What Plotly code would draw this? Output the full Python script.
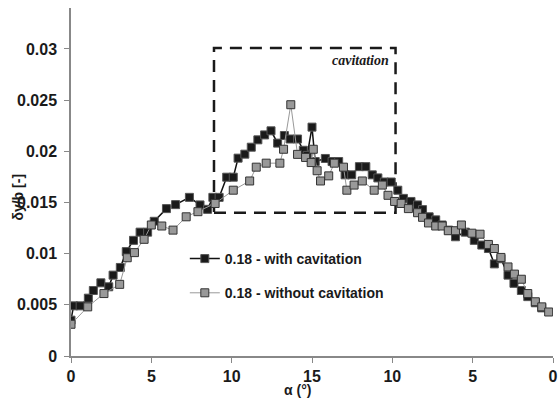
import plotly.graph_objects as go

# with cavitation (black)
x_cav = [0, 0.16, 0.57, 1.08, 1.39, 1.86, 2.35, 2.62, 3.07, 3.44, 3.89, 4.30, 4.77, 5.18,
         5.94, 6.51, 7.37, 8.03, 8.5, 8.83, 9.22, 9.69, 10.1, 10.4, 10.82, 11.22, 11.63,
         12.05, 12.45, 12.86, 13.28, 13.64, 14.1, 14.46, 14.7, 15.0, 15.2, 15.83, 16.25,
         16.66, 17.06, 17.47, 17.95, 18.35, 18.75, 19.1, 19.5, 19.93, 20.34, 20.69, 21.16,
         21.57, 21.88, 22.29, 22.7, 23.1, 23.5, 23.93, 24.54, 25.1, 25.57, 25.98, 26.35,
         26.76, 27.2, 27.57, 28.03, 28.43, 28.9, 29.3]
y_cav = [0.0035, 0.0049, 0.0049, 0.00565, 0.0064, 0.00715, 0.00676, 0.0079, 0.00865, 0.0102,
         0.0113, 0.0121, 0.0121, 0.01316, 0.0144, 0.01479, 0.0155, 0.01476, 0.01433, 0.0155,
         0.0155, 0.01747, 0.01747, 0.01933, 0.01972, 0.0204, 0.02112, 0.0216, 0.0220, 0.0208,
         0.02154, 0.0212, 0.0212, 0.0201, 0.0196, 0.02236, 0.0190, 0.0193, 0.0190, 0.0190,
         0.0177, 0.0177, 0.0185, 0.0185, 0.0177, 0.0174, 0.0170, 0.0170, 0.0162, 0.0154,
         0.0151, 0.01476, 0.0143, 0.0136, 0.0133, 0.0128, 0.0123, 0.01165, 0.0121, 0.0113,
         0.01084, 0.0105, 0.0090, 0.0095, 0.0079, 0.0071, 0.0064, 0.0058, 0.0052, 0.0047]

# without cavitation (gray)
x_nocav = [0, 1.04, 2.05, 3.03, 3.5, 3.95, 4.55, 5.0, 5.65, 6.35, 7.17, 7.9, 8.97, 10.1,
           11.12, 11.53, 12.15, 13.0, 13.23, 13.68, 14.1, 14.6, 14.95, 15.08, 15.32, 15.53,
           16.04, 16.39, 16.96, 17.17, 17.62, 18.13, 18.87, 19.38, 19.73, 20.14, 20.55, 21.0,
           21.57, 21.88, 22.25, 22.7, 23.1, 23.48, 23.93, 24.3, 24.95, 25.46, 25.98, 26.35,
           26.76, 27.2, 27.6, 28.03, 28.43, 28.9, 29.3, 29.73]
y_nocav = [0.0031, 0.0048, 0.0061, 0.0070, 0.0096, 0.0101, 0.0114, 0.0128, 0.0127, 0.0123,
           0.0136, 0.0141, 0.0149, 0.0162, 0.0171, 0.01845, 0.01884, 0.01884, 0.0202, 0.02455,
           0.0197, 0.0194, 0.0189, 0.0202, 0.0181, 0.0171, 0.0176, 0.01884, 0.01845, 0.0162,
           0.0167, 0.0171, 0.0162, 0.0167, 0.0157, 0.0151, 0.0149, 0.0144, 0.0140, 0.01355,
           0.0130, 0.0127, 0.0127, 0.01224, 0.01224, 0.0128, 0.0120, 0.0119, 0.0109, 0.0105,
           0.00963, 0.0087, 0.0080, 0.0075, 0.0061, 0.0053, 0.0048, 0.0043]

x_tickvals = [0, 5, 10, 15, 20, 25, 30]
x_ticktext = ["0", "5", "10", "15", "10", "5", "0"]
y_tickvals = [0, 0.005, 0.01, 0.015, 0.02, 0.025, 0.03]
y_ticktext = ["0", "0.005", "0.01", "0.015", "0.02", "0.025", "0.03"]

box_x = [8.9, 20.2]
box_y = [0.014, 0.0301]

font = "Liberation Sans, Arial, sans-serif"

fig = go.Figure()
fig.add_trace(go.Scatter(
    x=x_cav, y=y_cav, mode="lines+markers", name="<b>0.18 - with cavitation</b>",
    legendgroup="a",
    line=dict(color="#111111", width=1.5),
    marker=dict(symbol="square", size=8, color="#1a1a1a", line=dict(color="#555555", width=1)),
))
fig.add_trace(go.Scatter(
    x=x_nocav, y=y_nocav, mode="lines+markers", name="<b>0.18 - without cavitation</b>",
    legendgroup="b",
    line=dict(color="#999999", width=1),
    marker=dict(symbol="square", size=8, color="#999999", line=dict(color="#333333", width=1)),
))

fig.add_shape(type="rect", xref="x", yref="y", x0=box_x[0], x1=box_x[1], y0=box_y[0], y1=box_y[1],
              line=dict(color="#1a1a1a", width=2.5, dash="12px,8px"), layer="below")

fig.add_annotation(x=box_x[1] - 0.3, y=box_y[1] - 0.0003, xref="x", yref="y", text="<b><i>cavitation</i></b>",
                   showarrow=False, xanchor="right", yanchor="top",
                   font=dict(family="Liberation Serif, Times New Roman, serif", size=14, color="#1a1a1a"))

fig.add_annotation(x=17, y=197, text="<b>δy/b [-]</b>", textangle=-90,
                   showarrow=False, font=dict(family=font, size=14, color="#1a1a1a"))
fig.add_annotation(x=300, y=390, text="<b>α (°)</b>", showarrow=False,
                   font=dict(family=font, size=14, color="#1a1a1a"))

# convert pixel annotations to paper coordinates
L, R, T, B = 71, 2, 8, 47
W, H = 560, 403
pw, ph = W - L - R, H - T - B
for a in fig.layout.annotations[1:]:
    a.xref = "paper"; a.yref = "paper"
    px, py = a.x, a.y
    a.x = (px - L) / pw
    a.y = (H - B - py) / ph
    a.xanchor = "center"; a.yanchor = "middle"

fig.update_layout(
    width=W, height=H,
    margin=dict(l=L, r=R, t=T, b=B),
    plot_bgcolor="white", paper_bgcolor="white",
    font=dict(family=font, size=15, color="#1a1a1a"),
    showlegend=True,
    legend=dict(x=(186 - L) / pw, y=(H - B - 243) / ph, xanchor="left", yanchor="top",
                bgcolor="rgba(0,0,0,0)", font=dict(family=font, size=14, color="#1a1a1a"),
                traceorder="grouped", tracegroupgap=13, itemwidth=30),
    xaxis=dict(range=[0, 30], tickvals=x_tickvals, ticktext=[f"<b>{t}</b>" for t in x_ticktext],
               showgrid=False, zeroline=False, showline=True, linecolor="#888888", linewidth=1.5,
               ticks="outside", ticklen=5, tickcolor="#888888", tickfont=dict(size=16),
               ticklabeloverflow="allow"),
    yaxis=dict(range=[0, 0.034], tickvals=y_tickvals, ticktext=[f"<b>{t}</b>" for t in y_ticktext],
               showgrid=False, zeroline=False, showline=True, linecolor="#888888", linewidth=1.5,
               ticks="outside", ticklen=5, tickcolor="#888888", tickfont=dict(size=16),
               ticklabelstandoff=4),
)

fig.write_html("out.html")
